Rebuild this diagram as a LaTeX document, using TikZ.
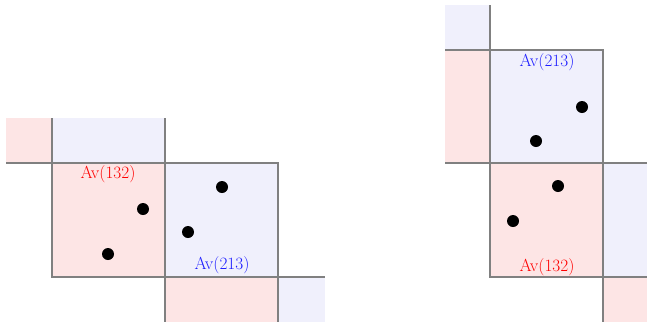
\documentclass[tikz,border=0pt]{standalone}
\definecolor{pinkfill}{RGB}{253,229,229}
\definecolor{bluefill}{RGB}{240,240,252}
\definecolor{gridgray}{RGB}{128,128,128}
\definecolor{labred}{RGB}{255,0,0}
\definecolor{labblue}{RGB}{30,30,255}
\begin{document}
\begin{tikzpicture}[x=1pt,y=-1pt,
  gridline/.style={draw=gridgray,line width=1.6pt},
  dot/.style={circle,fill=black,inner sep=0pt,minimum size=12pt},
  lab/.style={font=\fontsize{17.5}{20}\selectfont,inner sep=0pt}]
\useasboundingbox (0,0) rectangle (647,322);
% ---------- left diagram ----------
\fill[pinkfill] (6,118) rectangle (52,163);
\fill[bluefill] (52,118) rectangle (165,163);
\fill[pinkfill] (52,163) rectangle (165,277);
\fill[bluefill] (165,163) rectangle (278,277);
\fill[pinkfill] (165,277) rectangle (278,322);
\fill[bluefill] (278,277) rectangle (325,322);
\draw[gridline] (6,163) -- (278,163) -- (278,322);
\draw[gridline] (52,118) -- (52,277) -- (325,277);
\draw[gridline] (165,118) -- (165,322);
\node[lab,text=labred] (la) at (108,174) {Av$(132)$};
\node[lab,text=labblue] (lb) at (222,265) {Av$(213)$};
\node[dot] (l1) at (222,187) {};
\node[dot] (l2) at (143,209) {};
\node[dot] (l3) at (188,232) {};
\node[dot] (l4) at (108,254) {};
% ---------- right diagram ----------
\fill[bluefill] (445,5) rectangle (490,50);
\fill[pinkfill] (445,50) rectangle (490,163);
\fill[bluefill] (490,50) rectangle (603,163);
\fill[pinkfill] (490,163) rectangle (603,277);
\fill[bluefill] (603,163) rectangle (647,277);
\fill[pinkfill] (603,277) rectangle (647,322);
\draw[gridline] (445,50) -- (603,50) -- (603,322);
\draw[gridline] (490,5) -- (490,277) -- (647,277);
\draw[gridline] (445,163) -- (647,163);
\node[lab,text=labblue] (ra) at (547,62) {Av$(213)$};
\node[lab,text=labred] (rb) at (547,267) {Av$(132)$};
\node[dot] (r1) at (582,107) {};
\node[dot] (r2) at (536,141) {};
\node[dot] (r3) at (558,186) {};
\node[dot] (r4) at (513,221) {};
\end{tikzpicture}
\end{document}
